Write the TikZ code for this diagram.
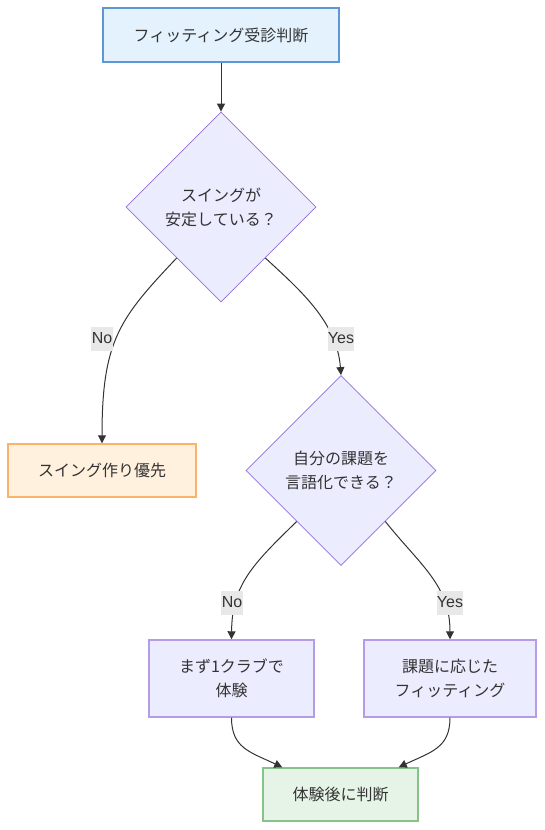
\documentclass[tikz,border=0pt]{standalone}
\usepackage{fontspec}
\setmainfont{Noto Sans CJK JP}
\newfontfamily\labfont{Liberation Sans}
\usetikzlibrary{shapes.geometric,arrows.meta,calc}
\definecolor{txt}{HTML}{333333}
\definecolor{blueF}{HTML}{E3F2FD}
\definecolor{blueD}{HTML}{5E97D8}
\definecolor{orF}{HTML}{FFF1DE}
\definecolor{orD}{HTML}{FBB36A}
\definecolor{puF}{HTML}{ECECFF}
\definecolor{puD}{HTML}{9370DB}
\definecolor{puB}{HTML}{B49CE8}
\definecolor{grF}{HTML}{E6F4E7}
\definecolor{grD}{HTML}{88C28B}
\definecolor{labbg}{HTML}{E8E8E8}
\tikzset{
  base/.style={font=\fontsize{12pt}{18pt}\selectfont, text=txt, align=center, inner sep=0pt},
  boxA/.style={base, rectangle, fill=blueF, draw=blueD, line width=1.1pt},
  boxO/.style={base, rectangle, fill=orF, draw=orD, line width=1.1pt},
  boxP/.style={base, rectangle, fill=puF, draw=puB, line width=1.1pt},
  boxG/.style={base, rectangle, fill=grF, draw=grD, line width=1.1pt},
  dec/.style={base, diamond, aspect=1, fill=puF, draw=puD, line width=0.6pt, minimum width=142.5pt, minimum height=142.5pt},
  conn/.style={draw=txt, line width=0.75pt, -{Triangle[length=6pt,width=6pt]}},
  lab/.style={font=\labfont\fontsize{12pt}{14pt}\selectfont, text=txt, fill=labbg, inner xsep=0.3pt, inner ysep=0pt, minimum height=18pt}
}
\begin{document}
\begin{tikzpicture}[x=0.75pt,y=-0.75pt]
\useasboundingbox (0,0) rectangle (544,830);
\node[boxA, minimum width=177pt, minimum height=40.5pt] (a) at (221,35) {フィッティング受診判断};
\node[dec] (b) at (221,207) {スイングが\\安定している？};
\node[boxO, minimum width=141pt, minimum height=39.75pt] (c) at (102,470.5) {スイング作り優先};
\node[dec] (d) at (341,470.5) {自分の課題を\\言語化できる？};
\node[boxP, minimum width=123.75pt, minimum height=57.75pt] (e) at (231.5,678.5) {まず1クラブで\\体験};
\node[boxP, minimum width=129pt, minimum height=57.75pt] (f) at (450,678.5) {課題に応じた\\フィッティング};
\node[boxG, minimum width=116.25pt, minimum height=39.75pt] (g) at (340.5,794.5) {体験後に判断};

\draw[conn] (a.south) -- (b.north);
\draw[conn] (b.-131) .. controls (120,318) and (102,340) .. (c.north);
\draw[conn] (b.-49) .. controls (300,290) and (337,322) .. (d.north);
\node[lab] (l1) at (102,338.5) {No};
\node[lab] (l2) at (341,338.5) {Yes};
\draw[conn] (d.-131) .. controls (252,565) and (232,585) .. (e.north);
\draw[conn] (d.-49) .. controls (420,565) and (450,585) .. (f.north);
\node[lab] (l3) at (232,602.5) {No};
\node[lab] (l4) at (450,602.5) {Yes};
\coordinate (g1) at ($(g.north west)+(20,0)$);
\coordinate (g2) at ($(g.north east)+(-20,0)$);
\draw[conn] (e.south) .. controls (231.5,748) and (250,752) .. (g1);
\draw[conn] (f.south) .. controls (450,748) and (431,752) .. (g2);
\end{tikzpicture}
\end{document}
